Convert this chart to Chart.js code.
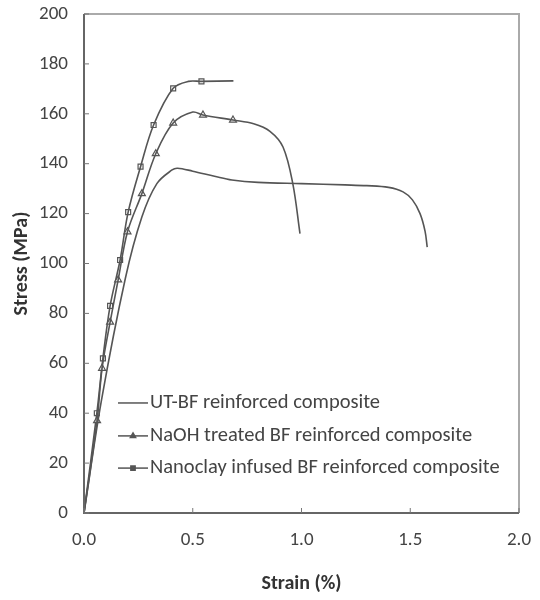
<!DOCTYPE html>
<html>
<head>
<meta charset="utf-8">
<script src="https://cdn.jsdelivr.net/npm/chart.js@4"></script>
<style>
  html, body { margin: 0; padding: 0; background: #fff; }
  #wrap { width: 540px; height: 600px; }
</style>
</head>
<body>
<div id="wrap"><canvas id="stressChart" width="540" height="600"></canvas></div>
<script>
// Strain (%) / stress (MPa)
const seriesNames = [
  'UT-BF reinforced composite',
  'NaOH treated BF reinforced composite',
  'Nanoclay infused BF reinforced composite'
];

const utStrain = [0, 0.08, 0.19, 0.266, 0.335, 0.405, 0.43, 0.5, 0.6, 0.68, 0.8, 1.0, 1.2, 1.3, 1.4, 1.467, 1.51, 1.545, 1.568, 1.578];
const utStress = [0, 45, 94, 118.6, 132, 137.5, 138.2, 137, 135, 133.5, 132.5, 132, 131.5, 131.2, 130.5, 128.7, 125.5, 120, 113, 106.6];

const naohStrain = [0, 0.06, 0.083, 0.12, 0.157, 0.2, 0.266, 0.33, 0.41, 0.5, 0.547, 0.685, 0.78, 0.855, 0.915, 0.96, 0.993];
const naohStress = [0, 37, 58, 76.5, 93.4, 112.7, 128, 144, 156.3, 160.7, 159.5, 157.5, 156, 153, 146.7, 132, 112];
const naohMarkStrain = [0.06, 0.083, 0.12, 0.157, 0.2, 0.266, 0.33, 0.41, 0.547, 0.685];
const naohMarkStress = [37, 58, 76.5, 93.4, 112.7, 128, 144, 156.3, 159.5, 157.5];

const nanoStrain = [0, 0.059, 0.087, 0.12, 0.166, 0.203, 0.26, 0.32, 0.41, 0.48, 0.54, 0.687];
const nanoStress = [0, 40, 62, 83, 101.4, 120.6, 138.8, 155.5, 170.2, 173, 173, 173.2];
const nanoMarkStrain = [0.059, 0.087, 0.12, 0.166, 0.203, 0.26, 0.32, 0.41, 0.54];
const nanoMarkStress = [40, 62, 83, 101.4, 120.6, 138.8, 155.5, 170.2, 173];

const xTicks = [0, 0.5, 1.0, 1.5, 2.0];
const yTicks = [0, 20, 40, 60, 80, 100, 120, 140, 160, 180, 200];

const lineColor = '#555';
const textColor = '#444';
const fontFamily = 'Carlito, Lato, "Liberation Sans", sans-serif';

function toPoints(xs, ys) {
  return xs.map((x, i) => ({ x: x, y: ys[i] }));
}

function lineSet(label, xs, ys) {
  return {
    label: label,
    data: toPoints(xs, ys),
    borderColor: lineColor,
    borderWidth: 1.6,
    pointRadius: 0,
    tension: 0.35,
    fill: false
  };
}

function markSet(label, xs, ys, style, radius) {
  return {
    label: label,
    data: toPoints(xs, ys),
    showLine: false,
    pointStyle: style,
    pointRadius: radius,
    borderColor: lineColor,
    backgroundColor: 'rgba(255,255,255,0.6)',
    borderWidth: 1.2
  };
}

// frame, inward ticks and the in-plot legend
const framePlugin = {
  id: 'framePlugin',
  afterDatasetsDraw(chart) {
    const { ctx, chartArea: a, scales } = chart;
    ctx.save();
    ctx.lineWidth = 2;
    ctx.strokeStyle = '#aaa';
    ctx.beginPath();
    ctx.moveTo(a.left, a.top);
    ctx.lineTo(a.right, a.top);
    ctx.lineTo(a.right, a.bottom);
    ctx.stroke();
    ctx.strokeStyle = '#666';
    ctx.beginPath();
    ctx.moveTo(a.left, a.top);
    ctx.lineTo(a.left, a.bottom);
    ctx.lineTo(a.right, a.bottom);
    ctx.stroke();

    ctx.lineWidth = 1;
    ctx.strokeStyle = '#777';
    yTicks.forEach(v => {
      const py = scales.y.getPixelForValue(v);
      ctx.beginPath();
      ctx.moveTo(a.left, py);
      ctx.lineTo(a.left + 5, py);
      ctx.stroke();
    });
    xTicks.forEach(v => {
      const px = scales.x.getPixelForValue(v);
      ctx.beginPath();
      ctx.moveTo(px, a.bottom);
      ctx.lineTo(px, a.bottom - 5);
      ctx.stroke();
    });

    // legend
    const styles = [null, 'triangle', 'rect'];
    const x0 = a.left + 34;
    const x1 = a.left + 64;
    const rowY = [scales.y.getPixelForValue(44.1), scales.y.getPixelForValue(30.9), scales.y.getPixelForValue(18)];
    ctx.font = '20.5px ' + fontFamily;
    ctx.textBaseline = 'middle';
    seriesNames.forEach((name, i) => {
      ctx.strokeStyle = lineColor;
      ctx.lineWidth = 1.5;
      ctx.beginPath();
      ctx.moveTo(x0, rowY[i]);
      ctx.lineTo(x1, rowY[i]);
      ctx.stroke();
      if (styles[i]) {
        ctx.fillStyle = lineColor;
        Chart.helpers.drawPoint(ctx, { pointStyle: styles[i], radius: 3, rotation: 0, borderWidth: 1 }, (x0 + x1) / 2, rowY[i]);
      }
      ctx.fillStyle = '#444';
      ctx.fillText(name, x1 + 2, rowY[i]);
    });
    ctx.restore();
  }
};

// drop the label overhang so the layout padding alone sets the plot box
function noOverhang(scale) {
  scale.paddingTop = 0;
  scale.paddingBottom = 0;
  scale.paddingLeft = 0;
  scale.paddingRight = 0;
}

new Chart(document.getElementById('stressChart'), {
  type: 'line',
  data: {
    datasets: [
      lineSet(seriesNames[0], utStrain, utStress),
      lineSet(seriesNames[1], naohStrain, naohStress),
      markSet(seriesNames[1], naohMarkStrain, naohMarkStress, 'triangle', 4),
      lineSet(seriesNames[2], nanoStrain, nanoStress),
      markSet(seriesNames[2], nanoMarkStrain, nanoMarkStress, 'rect', 3.5)
    ]
  },
  options: {
    responsive: false,
    animation: false,
    layout: { padding: { top: 14, right: 21, left: 0, bottom: 0 } },
    plugins: {
      legend: { display: false },
      tooltip: { enabled: false }
    },
    scales: {
      x: {
        type: 'linear',
        min: 0,
        max: 2,
        afterBuildTicks: scale => { scale.ticks = xTicks.map(v => ({ value: v })); },
        afterFit: scale => { scale.height = 87; noOverhang(scale); },
        grid: { display: false, drawTicks: false },
        border: { display: false },
        ticks: {
          padding: 16,
          color: textColor,
          font: { family: fontFamily, size: 19 },
          callback: v => v.toFixed(1)
        },
        title: {
          display: true,
          text: 'Strain (%)',
          color: '#333',
          padding: { top: 10 },
          font: { family: fontFamily, size: 20, weight: 'bold' }
        }
      },
      y: {
        type: 'linear',
        min: 0,
        max: 200,
        afterBuildTicks: scale => { scale.ticks = yTicks.map(v => ({ value: v })); },
        afterFit: scale => { scale.width = 84; noOverhang(scale); },
        grid: { display: false, drawTicks: false },
        border: { display: false },
        ticks: {
          padding: 16,
          color: textColor,
          font: { family: fontFamily, size: 19 }
        },
        title: {
          display: true,
          text: 'Stress (MPa)',
          color: '#333',
          padding: { top: 10, bottom: 4 },
          font: { family: fontFamily, size: 20, weight: 'bold' }
        }
      }
    }
  },
  plugins: [framePlugin]
});
</script>
</body>
</html>
